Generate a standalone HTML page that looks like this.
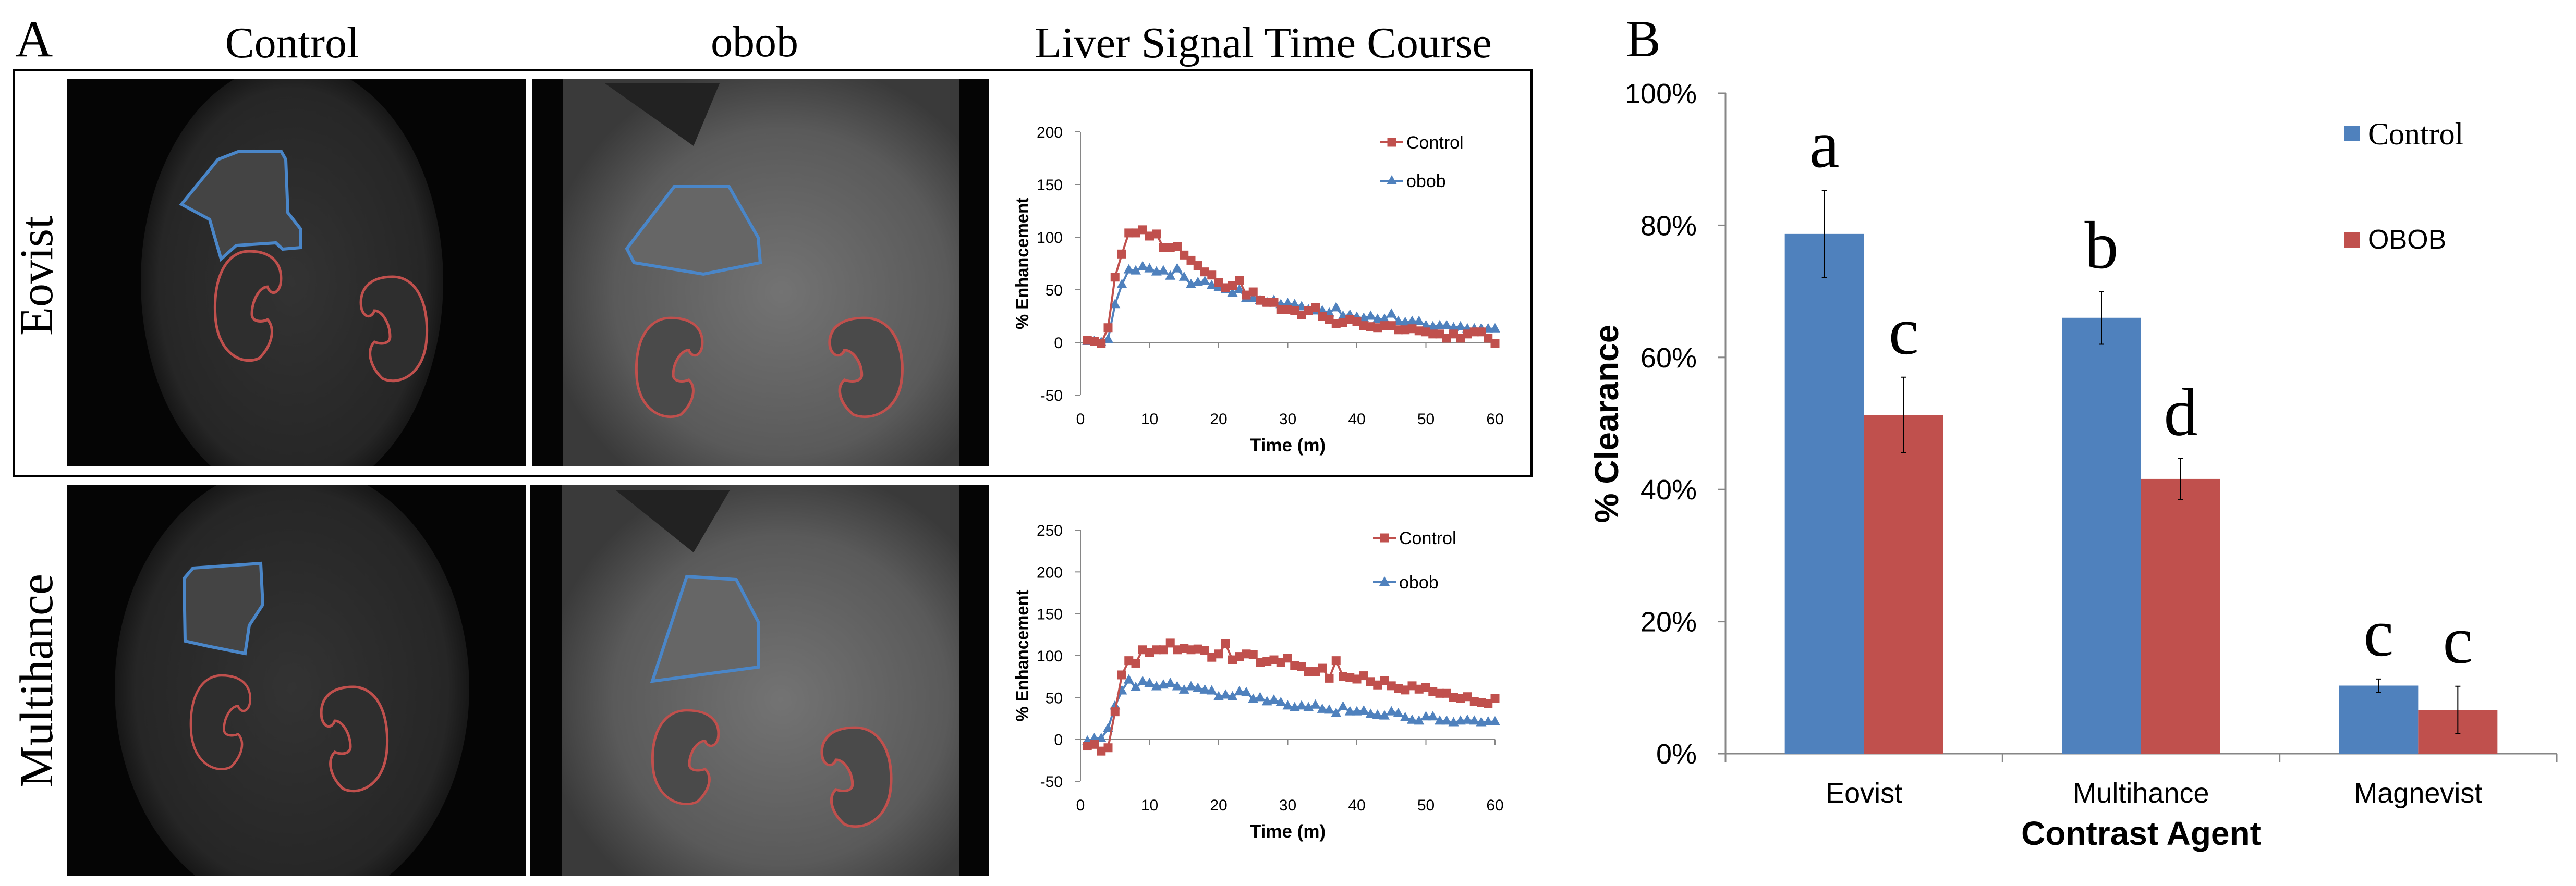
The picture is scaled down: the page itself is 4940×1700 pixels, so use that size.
<!DOCTYPE html>
<html><head><meta charset="utf-8"><style>
html,body{margin:0;padding:0;background:#fff;}
svg{display:block;}
.serif{font-family:"Liberation Serif",serif;}
.sans{font-family:"Liberation Sans",sans-serif;}
</style></head><body>
<svg id="fig" width="4940" height="1700" viewBox="0 0 4940 1700" xmlns="http://www.w3.org/2000/svg">
<defs>
<radialGradient id="bodyDark" cx="50%" cy="50%" r="55%"><stop offset="0" stop-color="#333"/><stop offset="0.8" stop-color="#262626"/><stop offset="1" stop-color="#0a0a0a"/></radialGradient>
<radialGradient id="bodyLight" cx="55%" cy="55%" r="60%"><stop offset="0" stop-color="#737373"/><stop offset="0.7" stop-color="#5a5a5a"/><stop offset="1" stop-color="#3a3a3a"/></radialGradient>
<path id="kid" d="M 0,-100 C 50,-100 65,-70 60,-40 C 55,-20 40,-20 35,-35 C 20,-35 5,-10 5,15 C 5,30 25,30 35,25 C 50,40 45,70 20,95 C -10,110 -60,90 -65,20 C -70,-50 -45,-100 0,-100 Z"/>
<clipPath id="c1"><rect x="129" y="151" width="880" height="743"/></clipPath>
<clipPath id="c2"><rect x="1021" y="152" width="875" height="743"/></clipPath>
<clipPath id="c3"><rect x="129" y="931" width="880" height="750"/></clipPath>
<clipPath id="c4"><rect x="1016" y="931" width="880" height="750"/></clipPath>
</defs>

<text x="29" y="108" class="serif" font-size="100">A</text>
<text x="560" y="110" class="serif" font-size="84" text-anchor="middle">Control</text>
<text x="1447" y="108" class="serif" font-size="84" text-anchor="middle">obob</text>
<text x="1984" y="110" class="serif" font-size="84" textLength="877" lengthAdjust="spacingAndGlyphs">Liver Signal Time Course</text>
<text x="0" y="0" class="serif" font-size="90" text-anchor="middle" transform="translate(100,529) rotate(-90)">Eovist</text>
<text x="0" y="0" class="serif" font-size="90" text-anchor="middle" transform="translate(100,1306) rotate(-90)">Multihance</text>
<rect x="27" y="134" width="2910" height="780" fill="none" stroke="#000" stroke-width="4"/>

<g clip-path="url(#c1)">
<rect x="129" y="151" width="880" height="743" fill="#050505"/>
<ellipse cx="560" cy="540" rx="290" ry="420" fill="url(#bodyDark)"/>
<path d="M348,392 L418,306 L459,290 L539,290 L548,306 L552,408 L577,440 L577,475 L542,478 L529,466 L453,471 L424,497 L402,421 Z" fill="#444" stroke="#4a86c8" stroke-width="6"/>
<use href="#kid" transform="translate(478,587) scale(1,1.05)" fill="#2e2e2e" stroke="#c0504d" stroke-width="5"/>
<use href="#kid" transform="translate(753,631) scale(-1,1)" fill="#2e2e2e" stroke="#c0504d" stroke-width="5"/>
</g>
<g clip-path="url(#c2)">
<rect x="1021" y="152" width="875" height="743" fill="#050505"/>
<rect x="1080" y="152" width="760" height="743" fill="url(#bodyLight)"/>
<path d="M1160,160 L1330,280 L1380,160 Z" fill="#222"/>
<path d="M1202,477 L1293,358 L1398,358 L1454,456 L1458,504 L1349,526 L1216,504 Z" fill="#666" stroke="#4a86c8" stroke-width="6"/>
<use href="#kid" transform="translate(1286,705) scale(1,0.95)" fill="#4a4a4a" stroke="#c0504d" stroke-width="5"/>
<use href="#kid" transform="translate(1658,705) scale(-1.1,0.95)" fill="#4a4a4a" stroke="#c0504d" stroke-width="5"/>
</g>
<g clip-path="url(#c3)">
<rect x="129" y="931" width="880" height="750" fill="#050505"/>
<ellipse cx="560" cy="1320" rx="340" ry="430" fill="url(#bodyDark)"/>
<path d="M353,1110 L370,1090 L500,1081 L504,1160 L478,1200 L470,1254 L400,1240 L355,1230 Z" fill="#444" stroke="#4a86c8" stroke-width="6"/>
<use href="#kid" transform="translate(425,1386) scale(0.9,0.9)" fill="#2e2e2e" stroke="#c0504d" stroke-width="5"/>
<use href="#kid" transform="translate(677,1418) scale(-1,1)" fill="#2e2e2e" stroke="#c0504d" stroke-width="5"/>
</g>
<g clip-path="url(#c4)">
<rect x="1016" y="931" width="880" height="750" fill="#050505"/>
<rect x="1078" y="931" width="762" height="750" fill="url(#bodyLight)"/>
<path d="M1180,940 L1330,1060 L1400,940 Z" fill="#222"/>
<path d="M1317,1106 L1412,1112 L1454,1193 L1454,1280 L1251,1307 Z" fill="#666" stroke="#4a86c8" stroke-width="6"/>
<use href="#kid" transform="translate(1317,1453) scale(1,0.9)" fill="#4a4a4a" stroke="#c0504d" stroke-width="5"/>
<use href="#kid" transform="translate(1640,1491) scale(-1.05,0.95)" fill="#4a4a4a" stroke="#c0504d" stroke-width="5"/>
</g>

<g id="lineTop"></g>
<g id="lineBot"></g>
<g id="bar"></g>
</svg>
<script>
// Eovist time course (t = 1..60 min)
var eovControl = [2,1,-1,14,62,84,104,104,107,101,103,90,90,91,83,78,73,67,64,57,52,54,59,45,48,40,38,38,31,31,30,26,30,33,25,22,18,19,22,20,16,15,14,16,16,12,12,13,11,10,8,8,4,8,4,8,10,10,4,-1];
var eovObob = [1,1,0,3,36,55,69,68,72,70,67,68,63,70,62,55,57,58,54,52,50,47,50,42,42,40,38,40,36,37,36,34,31,30,30,28,33,25,26,24,23,25,22,22,27,20,19,20,20,16,15,16,16,14,15,13,13,13,13,13];
// Multihance time course
var mulControl = [-8,-6,-14,-10,33,77,94,91,107,104,107,107,115,107,109,107,108,106,98,102,114,95,99,102,101,92,93,95,92,97,88,87,81,81,85,73,94,75,74,72,76,69,65,70,64,61,59,64,60,62,57,55,55,50,49,51,45,44,43,49];
var mulObob = [-2,1,1,13,40,58,71,62,69,67,63,65,67,63,59,63,61,59,58,51,53,51,57,56,48,50,45,47,44,40,38,40,38,41,36,35,31,39,33,33,34,30,29,28,33,31,26,23,22,27,27,22,22,20,22,23,22,20,21,21];
var xTicks = [0,10,20,30,40,50,60];
var yTicksTop = [-50,0,50,100,150,200];
var yTicksBot = [-50,0,50,100,150,200,250];
var seriesNames = ["Control","obob"];

// Bar chart
var agents = ["Eovist","Multihance","Magnevist"];
var clearControl = [78.7,66.0,10.3];
var clearObob = [51.3,41.6,6.6];
var errControl = [6.6,4.0,1.0];
var errObob = [5.7,3.1,3.6];
var lettersControl = ["a","b","c"];
var lettersObob = ["c","d","c"];
var barTicks = [0,20,40,60,80,100];

var NS = "http://www.w3.org/2000/svg";
function mk(parent, tag, attrs, text){
  var e = document.createElementNS(NS, tag);
  for (var k in attrs) e.setAttribute(k, attrs[k]);
  if (text !== undefined) e.textContent = text;
  parent.appendChild(e); return e;
}
var RED = "#c0504d", BLUE = "#4f81bd";

function lineChart(gid, ctrl, obob, yTicks, y0px, ymin, ymax, yTopPx, legY1, legY2, legX, prefix){
  var g = document.getElementById(gid);
  var x0 = 2072, x1 = 2867;
  function X(t){ return x0 + (t/60)*(x1-x0); }
  function Y(v){ return y0px + (v-ymin)/(ymax-ymin)*(yTopPx-y0px); }
  var ax = mk(g,"line",{x1:x0,y1:Y(ymin),x2:x0,y2:Y(ymax),stroke:"#868686","stroke-width":2});
  
  
  yTicks.forEach(function(v){
    var tk = mk(g,"line",{x1:x0-11,y1:Y(v),x2:x0,y2:Y(v),stroke:"#868686","stroke-width":2});
    
    
    var tl = mk(g,"text",{x:x0-34,y:Y(v)+11,"font-size":30,"text-anchor":"end","class":"sans"}, String(v));
    
    
  });
  var xa = mk(g,"line",{x1:x0,y1:Y(0),x2:x1,y2:Y(0),stroke:"#868686","stroke-width":2});
  
  
  xTicks.forEach(function(t){
    var tk = mk(g,"line",{x1:X(t),y1:Y(0),x2:X(t),y2:Y(0)+11,stroke:"#868686","stroke-width":2});
    
    
    var tl = mk(g,"text",{x:X(t),y:Y(ymin)+56,"font-size":30,"text-anchor":"middle","class":"sans"}, String(t));
    
    
  });
  var xt = mk(g,"text",{x:(x0+x1)/2,y:Y(ymin)+108,"font-size":35,"font-weight":"bold","text-anchor":"middle","class":"sans"},"Time (m)");
  
  
  var cy = (Y(ymin)+Y(ymax))/2;
  var yt = mk(g,"text",{x:0,y:0,"font-size":34,"font-weight":"bold","text-anchor":"middle","class":"sans",textLength:253,lengthAdjust:"spacingAndGlyphs",transform:"translate(1972,"+cy+") rotate(-90)"},"% Enhancement");
  
  

  function series(vals, color, kind, name){
    var pts = vals.map(function(v,i){ return X(i+1)+","+Y(v); }).join(" ");
    var pl = mk(g,"polyline",{points:pts,fill:"none",stroke:color,"stroke-width":4});
    
    
    vals.forEach(function(v,i){
      var cx = X(i+1), cyy = Y(v), m;
      if (kind==="sq") m = mk(g,"rect",{x:cx-8.5,y:cyy-8.5,width:17,height:17,fill:color});
      else m = mk(g,"polygon",{points:(cx)+","+(cyy-11)+" "+(cx-10)+","+(cyy+7)+" "+(cx+10)+","+(cyy+7),fill:color});
      
      
    });
  }
  series(obob, BLUE, "tri", "obob");
  series(ctrl, RED, "sq", "control");
  [[legY1,RED,"sq",seriesNames[0]],[legY2,BLUE,"tri",seriesNames[1]]].forEach(function(L){
    var lg = mk(g,"g",{});
    
    
    mk(lg,"line",{x1:legX,y1:L[0],x2:legX+44,y2:L[0],stroke:L[1],"stroke-width":4});
    var c = legX+22;
    if (L[2]==="sq") mk(lg,"rect",{x:c-8.5,y:L[0]-8.5,width:17,height:17,fill:L[1]});
    else mk(lg,"polygon",{points:c+","+(L[0]-11)+" "+(c-10)+","+(L[0]+7)+" "+(c+10)+","+(L[0]+7),fill:L[1]});
    mk(lg,"text",{x:legX+50,y:L[0]+12,"font-size":34,"class":"sans"},L[3]);
  });
}
lineChart("lineTop", eovControl, eovObob, yTicksTop, 758, -50, 200, 253, 273, 347, 2647, "eovist");
lineChart("lineBot", mulControl, mulObob, yTicksBot, 1499, -50, 250, 1017, 1032, 1117, 2633, "multihance");

(function(){
  var g = document.getElementById("bar");
  var x0 = 3309, x1 = 4903, yb = 1446, yt = 179;
  var gw = (x1-x0)/agents.length, bw = 152;
  function Y(v){ return yb - v/100*(yb-yt); }
  var t = mk(g,"text",{x:3118,y:108,"font-size":100,"class":"serif"},"B");
  
  
  var ya = mk(g,"line",{x1:x0,y1:yt,x2:x0,y2:yb,stroke:"#868686","stroke-width":3});
  
  
  barTicks.forEach(function(v){
    var tk = mk(g,"line",{x1:x0-14,y1:Y(v),x2:x0,y2:Y(v),stroke:"#868686","stroke-width":3});
    
    
    var tl = mk(g,"text",{x:3254,y:Y(v)+19,"font-size":54,"text-anchor":"end","class":"sans"},v+"%");
    
    
  });
  for (var i=0;i<=agents.length;i++){
    var tk = mk(g,"line",{x1:x0+i*gw,y1:yb,x2:x0+i*gw,y2:yb+16,stroke:"#868686","stroke-width":3});
    
    
  }
  var xa = mk(g,"line",{x1:x0,y1:yb,x2:x1,y2:yb,stroke:"#868686","stroke-width":3});
  
  
  agents.forEach(function(a,i){
    var gx = x0 + i*gw + (gw-2*bw)/2;
    [[clearControl,errControl,lettersControl,BLUE,"control"],[clearObob,errObob,lettersObob,RED,"obob"]].forEach(function(S,j){
      var v = S[0][i], e = S[1][i], bx = gx + j*bw, cx = bx + bw/2;
      var r = mk(g,"rect",{x:bx,y:Y(v),width:bw,height:yb-Y(v),fill:S[3]});
      
      
      var eb = mk(g,"path",{d:"M"+cx+","+Y(v+e)+"V"+Y(v-e)+"M"+(cx-5)+","+Y(v+e)+"H"+(cx+5)+"M"+(cx-5)+","+Y(v-e)+"H"+(cx+5),stroke:"#000","stroke-width":2,fill:"none"});
      
      
      var lt = mk(g,"text",{x:cx,y:Y(v+e)-45,"font-size":130,"text-anchor":"middle","class":"serif"},S[2][i]);
      
      
    });
    var cl = mk(g,"text",{x:x0+i*gw+gw/2,y:1540,"font-size":54,"text-anchor":"middle","class":"sans"},a);
    
    
  });
  var xt = mk(g,"text",{x:(x0+x1)/2,y:1621,"font-size":64,"font-weight":"bold","text-anchor":"middle","class":"sans"},"Contrast Agent");
  
  
  var ytt = mk(g,"text",{x:0,y:0,"font-size":64,"font-weight":"bold","text-anchor":"middle","class":"sans",transform:"translate(3103,813) rotate(-90)"},"% Clearance");
  
  
  var l1 = mk(g,"g",{});
  
  
  mk(l1,"rect",{x:4495,y:241,width:30,height:30,fill:BLUE});
  mk(l1,"text",{x:4541,y:277,"font-size":60,"class":"serif"},"Control");
  var l2 = mk(g,"g",{});
  
  
  mk(l2,"rect",{x:4495,y:445,width:30,height:30,fill:RED});
  mk(l2,"text",{x:4541,y:477,"font-size":52,"class":"sans"},"OBOB");
})();
</script>
</body></html>
